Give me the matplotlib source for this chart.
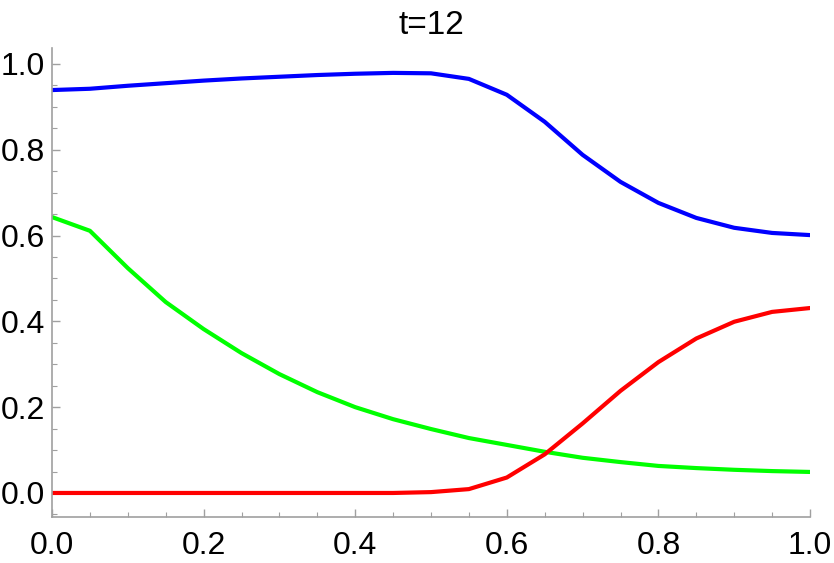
import numpy as np
import matplotlib.pyplot as plt
from matplotlib.ticker import MultipleLocator

plt.rcParams['font.family'] = ['Liberation Sans', 'DejaVu Sans']

x = np.round(np.arange(0, 1.0001, 0.05), 2)

blue = [0.939, 0.942, 0.949, 0.955, 0.961, 0.966, 0.970, 0.974, 0.977, 0.979,
        0.978, 0.965, 0.928, 0.865, 0.788, 0.725, 0.676, 0.641, 0.618, 0.606, 0.601]
green = [0.643, 0.611, 0.524, 0.445, 0.382, 0.326, 0.277, 0.235, 0.200, 0.172,
         0.149, 0.128, 0.112, 0.096, 0.082, 0.072, 0.063, 0.058, 0.054, 0.051, 0.049]
red = [0.0, 0.0, 0.0, 0.0, 0.0, 0.0, 0.0, 0.0, 0.0, 0.0,
       0.002, 0.009, 0.036, 0.090, 0.162, 0.238, 0.305, 0.360, 0.399, 0.422, 0.431]

fig = plt.figure(figsize=(8.34, 5.63), dpi=100)
ax = fig.add_axes([52 / 834, 46 / 563, 758 / 834, 469 / 563])

ax.plot(x, blue, color='#0000FF', lw=3, solid_joinstyle='round')
ax.plot(x, green, color='#00FF00', lw=3, solid_joinstyle='round')
ax.plot(x, red, color='#FF0000', lw=3, solid_joinstyle='round')

ax.set_xlim(0, 1.0)
ax.set_ylim(-0.056, 1.037)

ax.xaxis.set_major_locator(MultipleLocator(0.2))
ax.xaxis.set_minor_locator(MultipleLocator(0.05))
ax.yaxis.set_major_locator(MultipleLocator(0.2))
ax.yaxis.set_minor_locator(MultipleLocator(0.05))
ax.xaxis.set_major_formatter(plt.FormatStrFormatter('%.1f'))
ax.yaxis.set_major_formatter(plt.FormatStrFormatter('%.1f'))

for s in ['top', 'right']:
    ax.spines[s].set_visible(False)
for s in ['left', 'bottom']:
    ax.spines[s].set_color('#A0A0A0')
    ax.spines[s].set_linewidth(1.2)

ax.tick_params(which='both', direction='in', color='#A0A0A0', labelsize=23)
ax.tick_params(which='major', length=6, width=1)
ax.tick_params(which='minor', length=3.5, width=0.8)
ax.tick_params(axis='x', pad=10)
ax.tick_params(axis='y', pad=5)

ax.set_title('t=12', fontsize=24, pad=10)

fig.savefig('out.png', dpi=100)
